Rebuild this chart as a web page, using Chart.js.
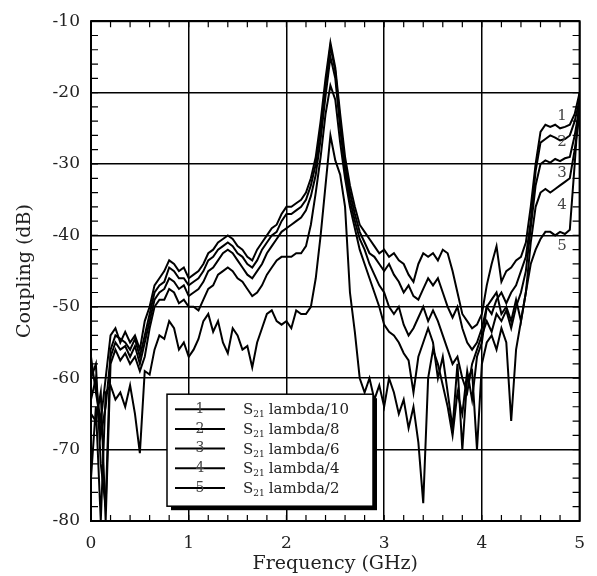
<!DOCTYPE html>
<html>
<head>
<meta charset="utf-8">
<script src="https://cdn.jsdelivr.net/npm/chart.js@4.4.1/dist/chart.umd.min.js"></script>
<style>
  html, body { margin: 0; padding: 0; background: #fff; }
  #wrap { width: 597px; height: 576px; }
</style>
</head>
<body>
<div id="wrap"><canvas id="grafico" width="597" height="576"></canvas></div>
<script>
// frequency points (GHz)
const freq = [
  0.00, 0.05, 0.10, 0.15, 0.20, 0.25, 0.30, 0.35, 0.40, 0.45,
  0.50, 0.55, 0.60, 0.65, 0.70, 0.75, 0.80, 0.85, 0.90, 0.95,
  1.00, 1.05, 1.10, 1.15, 1.20, 1.25, 1.30, 1.35, 1.40, 1.45,
  1.50, 1.55, 1.60, 1.65, 1.70, 1.75, 1.80, 1.85, 1.90, 1.95,
  2.00, 2.05, 2.10, 2.15, 2.20, 2.25, 2.30, 2.35, 2.40, 2.45,
  2.50, 2.55, 2.60, 2.65, 2.70, 2.75, 2.80, 2.85, 2.90, 2.95,
  3.00, 3.05, 3.10, 3.15, 3.20, 3.25, 3.30, 3.35, 3.40, 3.45,
  3.50, 3.55, 3.60, 3.65, 3.70, 3.75, 3.80, 3.85, 3.90, 3.95,
  4.00, 4.05, 4.10, 4.15, 4.20, 4.25, 4.30, 4.35, 4.40, 4.45,
  4.50, 4.55, 4.60, 4.65, 4.70, 4.75, 4.80, 4.85, 4.90, 4.95,
  5.00
];

// coupling (dB) per spacing
const lambda10 = [
  -57, -62, -66, -60, -54, -53, -55, -53.5, -55, -54,
  -56, -52, -50, -47, -46, -45, -43.5, -44, -45, -44.5,
  -46, -45.5, -45, -44, -42.5, -42, -41, -40.5, -40, -40.5,
  -41.5, -42, -43, -43.5, -42, -41, -40, -39, -38.5, -37,
  -36, -36, -35.5, -35, -34, -32, -29, -24, -18, -13,
  -16.5, -23, -29, -33, -36, -38.5, -39.5, -40.5, -41.5, -42.5,
  -42, -43, -42.5, -43.5, -44, -45.5, -46.5, -44, -42.5, -43,
  -42.5, -43.5, -42, -42.5, -45, -48, -51, -52, -53, -52.5,
  -51, -47, -44, -41.5, -46.5, -45, -44.5, -43.5, -43, -41,
  -36, -30, -25.5, -24.5, -24.8, -24.5, -25, -24.8, -24.5, -23,
  -20
];
const lambda8 = [
  -60, -58, -72, -78, -56, -54, -54.5, -55, -56, -54.5,
  -57, -54, -51, -48, -47, -46.5, -44.5, -45, -46, -46,
  -47, -46.5, -46, -45, -43.5, -43, -42, -41.5, -41, -41.5,
  -42.5, -43, -44, -44.5, -43.5, -42, -41, -40, -39.5, -38,
  -37, -37, -36.5, -36, -35, -33, -30, -25, -19, -13.5,
  -17, -24, -30, -34, -37, -39.5, -41, -42.5, -43, -44,
  -45, -44, -45.5, -46.5, -48, -47, -48.5, -49, -47.5, -46,
  -47, -46, -48, -50, -51.5, -50, -53, -55, -56, -55,
  -53, -50, -51, -49, -48, -49.5, -48, -47, -45, -43,
  -38, -31, -27, -26.5, -26, -26.3, -26.7, -26.5, -26, -24,
  -21
];
const lambda6 = [
  -63, -60, -68, -64, -57, -55, -56, -55.5, -57, -55.5,
  -58, -55, -52, -49, -48, -47.5, -46, -46.5, -47.5, -47,
  -48.5, -48, -47.5, -46.5, -45, -44.5, -43.5, -42.5, -42, -42.5,
  -43.5, -44.5, -45.5, -46, -45, -44, -42.5, -41.5, -40.5, -39.5,
  -39, -38.5, -38, -37.5, -36.5, -34.5, -31.5, -26.5, -20.5, -15,
  -18, -25, -31, -35, -38, -40.5, -42, -44, -45.5, -47,
  -48, -50, -51, -50, -52.5, -54, -53, -51.5, -50, -52,
  -50.5, -52, -54, -56, -58, -57, -60, -62, -58, -56,
  -54, -52, -53.5, -51, -52, -50.5, -53, -50, -48, -45,
  -39, -33, -30, -29.5, -29.8, -29.3, -29.6, -29.2, -29, -26,
  -22
];
const lambda4 = [
  -65, -66, -62, -80, -58, -56, -57.5, -56.5, -58, -57,
  -59, -57, -53, -50, -49, -49, -47.5, -48, -49.5, -49,
  -50, -50, -50.5, -49, -47.5, -47, -45.5, -45, -44.5, -45,
  -46, -46.5, -47.5, -48.5, -48, -47, -45.5, -44.5, -43.5, -43,
  -43, -43, -42.5, -42.5, -41.5, -38.5, -34, -29, -23, -19,
  -21, -27, -32, -36, -39, -42, -44, -46, -48, -50,
  -52.5, -53.5, -54, -55, -56.5, -57.5, -62, -57, -55, -53,
  -55, -60, -57, -62, -67, -58, -70, -60, -59, -70,
  -58, -55, -54, -56, -53, -55, -66, -56, -52, -48,
  -41, -36, -34, -33.5, -34, -33.5, -33, -32.5, -32, -28,
  -23
];
const lambda2 = [
  -74, -64, -80, -62, -61, -63, -62, -64, -61, -65,
  -70.5, -59, -59.5, -56, -54, -54.5, -52, -53, -56, -55,
  -57, -56, -54.5, -52, -51, -53.5, -52, -55, -56.5, -53,
  -54, -56, -55.5, -58.5, -55, -53, -51, -50.5, -52, -52.5,
  -52, -53, -50.5, -51, -51, -50, -46, -40, -33, -26,
  -29.5, -31.5, -36, -48, -53.5, -60, -62, -60, -63, -61,
  -64, -60, -62, -65, -63, -67, -64, -69, -77.5, -60,
  -56, -58, -61, -64, -68, -62, -65, -59, -63, -57,
  -55, -50, -49, -48, -51, -50, -52, -49, -52, -48,
  -44, -42, -40.5, -39.5, -39.5, -40, -39.5, -39.8, -39.2, -30,
  -20
];

const seriesNames = ['lambda/10', 'lambda/8', 'lambda/6', 'lambda/4', 'lambda/2'];
const seriesTags = ['1', '2', '3', '4', '5'];
const seriesValues = [lambda10, lambda8, lambda6, lambda4, lambda2];

// where the curve numbers sit at the right edge
const tagFreq = 4.82;
const tagLevel = [-23.3, -26.9, -31.3, -35.8, -41.5];

const serif = '"DejaVu Serif", serif';
Chart.defaults.font.family = serif;
Chart.defaults.color = '#222';

// inward minor ticks on all four sides + frame
const innerTicks = {
  id: 'innerTicks',
  afterDatasetsDraw(chart) {
    const { ctx, chartArea: a, scales: { x, y } } = chart;
    ctx.save();
    ctx.strokeStyle = '#000';
    ctx.lineWidth = 1.2;
    ctx.beginPath();
    for (let k = 1; k < 25; k++) {
      const px = x.getPixelForValue(k * 0.2);
      ctx.moveTo(px, a.bottom); ctx.lineTo(px, a.bottom - 6);
      ctx.moveTo(px, a.top); ctx.lineTo(px, a.top + 6);
    }
    for (let k = 1; k < 35; k++) {
      const py = y.getPixelForValue(-80 + k * 2);
      ctx.moveTo(a.left, py); ctx.lineTo(a.left + 7, py);
      ctx.moveTo(a.right, py); ctx.lineTo(a.right - 7, py);
    }
    ctx.stroke();
    ctx.lineWidth = 2;
    ctx.strokeRect(a.left, a.top, a.right - a.left, a.bottom - a.top);
    ctx.restore();
  }
};

// curve numbers and the boxed key
const keyBox = {
  id: 'keyBox',
  afterDraw(chart) {
    const { ctx, chartArea: a, scales: { x, y } } = chart;
    ctx.save();

    ctx.fillStyle = '#444';
    ctx.font = '15px ' + serif;
    ctx.textAlign = 'center';
    ctx.textBaseline = 'middle';
    seriesTags.forEach((t, i) => {
      ctx.fillText(t, x.getPixelForValue(tagFreq), y.getPixelForValue(tagLevel[i]));
    });

    const x0 = a.left + 76, y0 = a.top + 373, w = 206, h = 112;
    ctx.fillStyle = '#000';
    ctx.fillRect(x0 + 4, y0 + 4, w, h);
    ctx.fillStyle = '#fff';
    ctx.fillRect(x0, y0, w, h);
    ctx.strokeStyle = '#000';
    ctx.lineWidth = 1.5;
    ctx.strokeRect(x0, y0, w, h);

    seriesNames.forEach((name, i) => {
      const ly = y0 + 15 + i * 19.7;
      ctx.strokeStyle = '#000';
      ctx.lineWidth = 2;
      ctx.beginPath();
      ctx.moveTo(x0 + 8, ly);
      ctx.lineTo(x0 + 58, ly);
      ctx.stroke();

      ctx.fillStyle = '#444';
      ctx.font = '14px ' + serif;
      ctx.textAlign = 'center';
      ctx.textBaseline = 'middle';
      ctx.fillText(seriesTags[i], x0 + 33, ly);

      ctx.fillStyle = '#222';
      ctx.textAlign = 'left';
      ctx.textBaseline = 'alphabetic';
      ctx.font = '15px ' + serif;
      const bx = x0 + 76, by = ly + 5;
      ctx.fillText('S', bx, by);
      const sw = ctx.measureText('S').width;
      ctx.font = '9px ' + serif;
      ctx.fillText('21', bx + sw, by + 3);
      const subw = ctx.measureText('21').width;
      ctx.font = '15px ' + serif;
      ctx.fillText(name, bx + sw + subw + 4, by);
    });
    ctx.restore();
  }
};

const datasets = seriesValues.map((vals, i) => ({
  label: 'S21 ' + seriesNames[i],
  data: vals.map((v, j) => ({ x: freq[j], y: v })),
  borderColor: '#000',
  borderWidth: 2,
  pointRadius: 0,
  tension: 0,
  fill: false,
}));

const ctx = document.getElementById('grafico').getContext('2d');
const grafico = new Chart(ctx, {
  type: 'line',
  data: { datasets },
  options: {
    responsive: false,
    animation: false,
    layout: { padding: { top: 15, right: 4, left: 0, bottom: 0 } },
    plugins: { legend: { display: false }, tooltip: { enabled: false } },
    scales: {
      x: {
        type: 'linear',
        min: 0,
        max: 5,
        ticks: { stepSize: 1, font: { size: 17 }, color: '#222', padding: 12 },
        grid: { color: '#000', lineWidth: 1.5, drawTicks: false },
        border: { display: false },
        title: { display: true, text: 'Frequency (GHz)', font: { size: 19 }, color: '#222', padding: { top: 0, bottom: 1 } },
        afterFit(scale) { scale.height = 55; },
      },
      y: {
        min: -80,
        max: -10,
        ticks: { stepSize: 10, font: { size: 17 }, color: '#222', padding: 11 },
        grid: { color: '#000', lineWidth: 1.5, drawTicks: false },
        border: { display: false },
        title: { display: true, text: 'Coupling (dB)', font: { size: 19 }, color: '#222', padding: { top: 14, bottom: 0 } },
        afterFit(scale) { scale.width = 91; },
      },
    },
  },
  plugins: [innerTicks, keyBox],
});
</script>
</body>
</html>
